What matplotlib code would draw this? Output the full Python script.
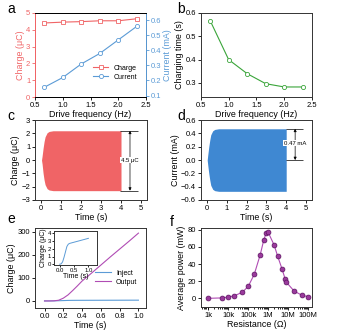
import matplotlib

matplotlib.use("Agg")

import matplotlib.pyplot as plt
from matplotlib.ticker import FixedLocator, LogLocator, NullFormatter

plt.rcParams["font.family"] = ["Liberation Sans", "DejaVu Sans"]
plt.rcParams["axes.linewidth"] = 0.7
plt.rcParams["xtick.major.width"] = 0.6
plt.rcParams["ytick.major.width"] = 0.6
plt.rcParams["xtick.major.size"] = 2
plt.rcParams["ytick.major.size"] = 2
plt.rcParams["xtick.minor.size"] = 1.2
plt.rcParams["xtick.labelsize"] = 5.5
plt.rcParams["ytick.labelsize"] = 5.5
plt.rcParams["xtick.major.pad"] = 1.5
plt.rcParams["ytick.major.pad"] = 1.5

# a / b: frequency sweep
freq = [0.667, 1.0, 1.333, 1.667, 2.0, 2.333]
charge_uc = [4.40, 4.45, 4.48, 4.53, 4.53, 4.65]
current_ma = [0.155, 0.22, 0.31, 0.38, 0.47, 0.56]
charging_time = [0.567, 0.40, 0.34, 0.297, 0.283, 0.283]

# c: charge waveform envelope
c_time = [0.02, 0.05, 0.1, 0.15, 0.2, 0.3, 0.4, 0.6, 1.0, 2.0, 3.0, 4.0]
c_upper = [0.0, 0.3, 0.9, 1.4, 1.75, 2.05, 2.15, 2.2, 2.2, 2.2, 2.2, 2.2]
c_lower = [0.0, -0.3, -1.0, -1.5, -1.85, -2.15, -2.25, -2.3, -2.3, -2.3, -2.3, -2.3]

# d: current waveform envelope
d_time = [0.02, 0.05, 0.1, 0.15, 0.2, 0.3, 0.4, 0.6, 1.0, 2.0, 3.0, 4.0]
d_upper = [0.0, 0.08, 0.2, 0.3, 0.38, 0.44, 0.46, 0.47, 0.47, 0.47, 0.47, 0.47]
d_lower = [0.0, -0.08, -0.2, -0.3, -0.38, -0.44, -0.46, -0.47, -0.47, -0.47, -0.47, -0.47]

# e: injected vs output charge
e_time = [0, 0.05, 0.1, 0.15, 0.2, 0.25, 0.3, 0.35, 0.4, 0.5, 0.6, 0.7, 0.8, 0.9, 1.0]
e_output = [0, 0, 0.5, 3, 12, 26, 45, 65, 86, 120, 155, 190, 224, 258, 293]
e_inject = [0, 0.05, 0.3, 0.9, 1.6, 2.3, 2.6, 2.7, 2.75, 2.85, 2.95, 3.05, 3.15, 3.25, 3.35]

# f: power vs load resistance
resistance = [1e3, 5e3, 1e4, 2e4, 5e4, 1e5, 2e5, 4e5, 6e5, 8e5, 1e6, 2e6, 3e6,
              5e6, 7e6, 8e6, 2e7, 5e7, 1e8]
power_mw = [0, 0.5, 1.5, 3, 7, 14, 28, 51, 68, 76.5, 77, 62, 49,
            34, 23, 19, 8.5, 3.5, 2]

RED = "#f06466"
BLUE = "#5b9bd6"
GREEN = "#3aa53a"
PURPLE = "#b04cb4"
LABEL_FS = 6.4

fig = plt.figure(figsize=(3.41, 3.30), dpi=100)

ax_a = fig.add_axes([0.103, 0.706, 0.325, 0.255])
ax_b = fig.add_axes([0.589, 0.706, 0.326, 0.255])
ax_c = fig.add_axes([0.103, 0.394, 0.328, 0.242])
ax_d = fig.add_axes([0.589, 0.394, 0.326, 0.242])
ax_e = fig.add_axes([0.103, 0.067, 0.325, 0.242])
ax_f = fig.add_axes([0.589, 0.070, 0.326, 0.239])

# a
l1, = ax_a.plot(freq, charge_uc, color=RED, marker="s", mfc="white", mec=RED,
                ms=3, lw=0.8, mew=0.6, label="Charge")
ax_a.set_xlim(0.5, 2.5)
ax_a.set_ylim(0, 5)
ax_a.set_xticks([0.5, 1.0, 1.5, 2.0, 2.5])
ax_a.set_xlabel("Drive frequency (Hz)", fontsize=LABEL_FS, labelpad=1)
ax_a.set_ylabel("Charge (μC)", fontsize=LABEL_FS, color=RED, labelpad=1)
ax_a.tick_params(axis="y", colors=RED)
ax_a.spines["left"].set_color(RED)
ax_a2 = ax_a.twinx()
l2, = ax_a2.plot(freq, current_ma, color=BLUE, marker="o", mfc="white", mec=BLUE,
                 ms=3, lw=0.8, mew=0.6, label="Current")
ax_a2.set_ylim(0.09, 0.65)
ax_a2.set_yticks([0.1, 0.2, 0.3, 0.4, 0.5, 0.6])
ax_a2.set_ylabel("Current (mA)", fontsize=LABEL_FS, color=BLUE, labelpad=1)
ax_a2.tick_params(axis="y", colors=BLUE)
ax_a2.spines["right"].set_color(BLUE)
ax_a2.spines["left"].set_color(RED)
ax_a2.legend(handles=[l1, l2], loc="lower right", bbox_to_anchor=(0.98, 0.12),
             frameon=False, fontsize=5, handlelength=2.2, labelspacing=0.3)

# b
ax_b.plot(freq, charging_time, color=GREEN, marker="o", mfc="white", mec=GREEN,
          ms=3, lw=0.8, mew=0.6)
ax_b.set_xlim(0.5, 2.5)
ax_b.set_ylim(0.24, 0.6)
ax_b.set_xticks([0.5, 1.0, 1.5, 2.0, 2.5])
ax_b.set_yticks([0.3, 0.4, 0.5, 0.6])
ax_b.set_xlabel("Drive frequency (Hz)", fontsize=LABEL_FS, labelpad=1)
ax_b.set_ylabel("Charging time (s)", fontsize=LABEL_FS, labelpad=1)

# c
ax_c.fill_between(c_time, c_lower, c_upper, color=RED, lw=0)
ax_c.set_xlim(-0.3, 5.3)
ax_c.set_ylim(-3, 3)
ax_c.set_xticks(range(6))
ax_c.set_yticks(range(-3, 4))
ax_c.set_xlabel("Time (s)", fontsize=LABEL_FS, labelpad=1)
ax_c.set_ylabel("Charge (μC)", fontsize=LABEL_FS, labelpad=1)
top_c, bot_c = max(c_upper), min(c_lower)
ax_c.hlines([top_c, bot_c], 3.97, 4.87, color="black", lw=0.5)
ax_c.annotate("", xy=(4.45, top_c), xytext=(4.45, bot_c),
              arrowprops=dict(arrowstyle="<|-|>", lw=0.5, color="black",
                              mutation_scale=4, shrinkA=0, shrinkB=0))
ax_c.text(4.45, 0, "4.5 μC", fontsize=4.3, ha="center", va="center",
          bbox=dict(facecolor="white", edgecolor="none", pad=0.5))

# d
ax_d.fill_between(d_time, d_lower, d_upper, color="#3f88d2", lw=0)
ax_d.set_xlim(-0.3, 5.3)
ax_d.set_ylim(-0.6, 0.6)
ax_d.set_xticks(range(6))
ax_d.set_yticks([-0.6, -0.4, -0.2, 0.0, 0.2, 0.4, 0.6])
ax_d.set_xlabel("Time (s)", fontsize=LABEL_FS, labelpad=1)
ax_d.set_ylabel("Current (mA)", fontsize=LABEL_FS, labelpad=1)
top_d = max(d_upper)
ax_d.hlines([top_d, 0.0], 3.97, 4.85, color="black", lw=0.5)
ax_d.annotate("", xy=(4.45, top_d), xytext=(4.45, 0.0),
              arrowprops=dict(arrowstyle="<|-|>", lw=0.5, color="black",
                              mutation_scale=4, shrinkA=0, shrinkB=0))
ax_d.text(4.45, 0.255, "0.47 mA", fontsize=4.3, ha="center", va="center",
          bbox=dict(facecolor="white", edgecolor="none", pad=0.5))

# e
ax_e.plot(e_time, e_inject, color=BLUE, lw=0.8, label="Inject")
ax_e.plot(e_time, e_output, color=PURPLE, lw=0.8, label="Output")
ax_e.set_xlim(-0.1, 1.08)
ax_e.set_ylim(-30, 315)
ax_e.set_xticks([0.0, 0.2, 0.4, 0.6, 0.8, 1.0])
ax_e.set_yticks([0, 100, 200, 300])
ax_e.set_xlabel("Time (s)", fontsize=LABEL_FS, labelpad=1)
ax_e.set_ylabel("Charge (μC)", fontsize=LABEL_FS, labelpad=1)
ax_e.legend(loc="lower right", bbox_to_anchor=(0.98, 0.2), frameon=False,
            fontsize=5, handlelength=2.2, labelspacing=0.3)

ins = fig.add_axes([54 / 341, 1 - 265 / 330, 43 / 341, 34 / 330])
ins.plot(e_time, e_inject, color=BLUE, lw=0.7)
ins.set_xlim(-0.2, 1.3)
ins.set_ylim(-0.1, 4.3)
ins.set_xticks([0.0, 0.5, 1.0])
ins.set_yticks([0, 1, 2, 3, 4])
ins.tick_params(labelsize=4.3, length=1.2, pad=0.8)
ins.set_xlabel("Time (s)", fontsize=5, labelpad=0.3)
ins.set_ylabel("Charge (μC)", fontsize=5, labelpad=0.3)

# f
ax_f.plot(resistance, power_mw, color=PURPLE, lw=0.8, marker="o", ms=3.5,
          mfc="#9a3a9c", mec="#5a1060", mew=0.5)
ax_f.set_xscale("log")
ax_f.set_xlim(10 ** 2.62, 10 ** 8.2)
ax_f.set_ylim(-10, 82)
ax_f.xaxis.set_major_locator(FixedLocator([1e3, 1e4, 1e5, 1e6, 1e7, 1e8]))
ax_f.set_xticklabels(["1k", "10k", "100k", "1M", "10M", "100M"])
ax_f.xaxis.set_minor_locator(LogLocator(base=10, subs=range(2, 10), numticks=20))
ax_f.xaxis.set_minor_formatter(NullFormatter())
ax_f.set_yticks([0, 20, 40, 60, 80])
ax_f.set_xlabel("Resistance (Ω)", fontsize=LABEL_FS, labelpad=1)
ax_f.set_ylabel("Average power (mW)", fontsize=LABEL_FS, labelpad=1)

for ax in (ax_a, ax_b, ax_c, ax_d, ax_e, ax_f, ins):
    for side in ("top", "bottom"):
        ax.spines[side].set_color("#333333")
for ax in (ax_b, ax_c, ax_d, ax_e, ax_f, ins):
    for side in ("left", "right"):
        ax.spines[side].set_color("#333333")

for lbl, x, y in [("a", 7, 13), ("b", 177, 13), ("c", 7, 120),
                  ("d", 177, 120), ("e", 7, 223), ("f", 170, 226)]:
    fig.text(x / 341, 1 - y / 330, lbl, fontsize=10, ha="left", va="baseline")

fig.savefig("out.png", dpi=100)
